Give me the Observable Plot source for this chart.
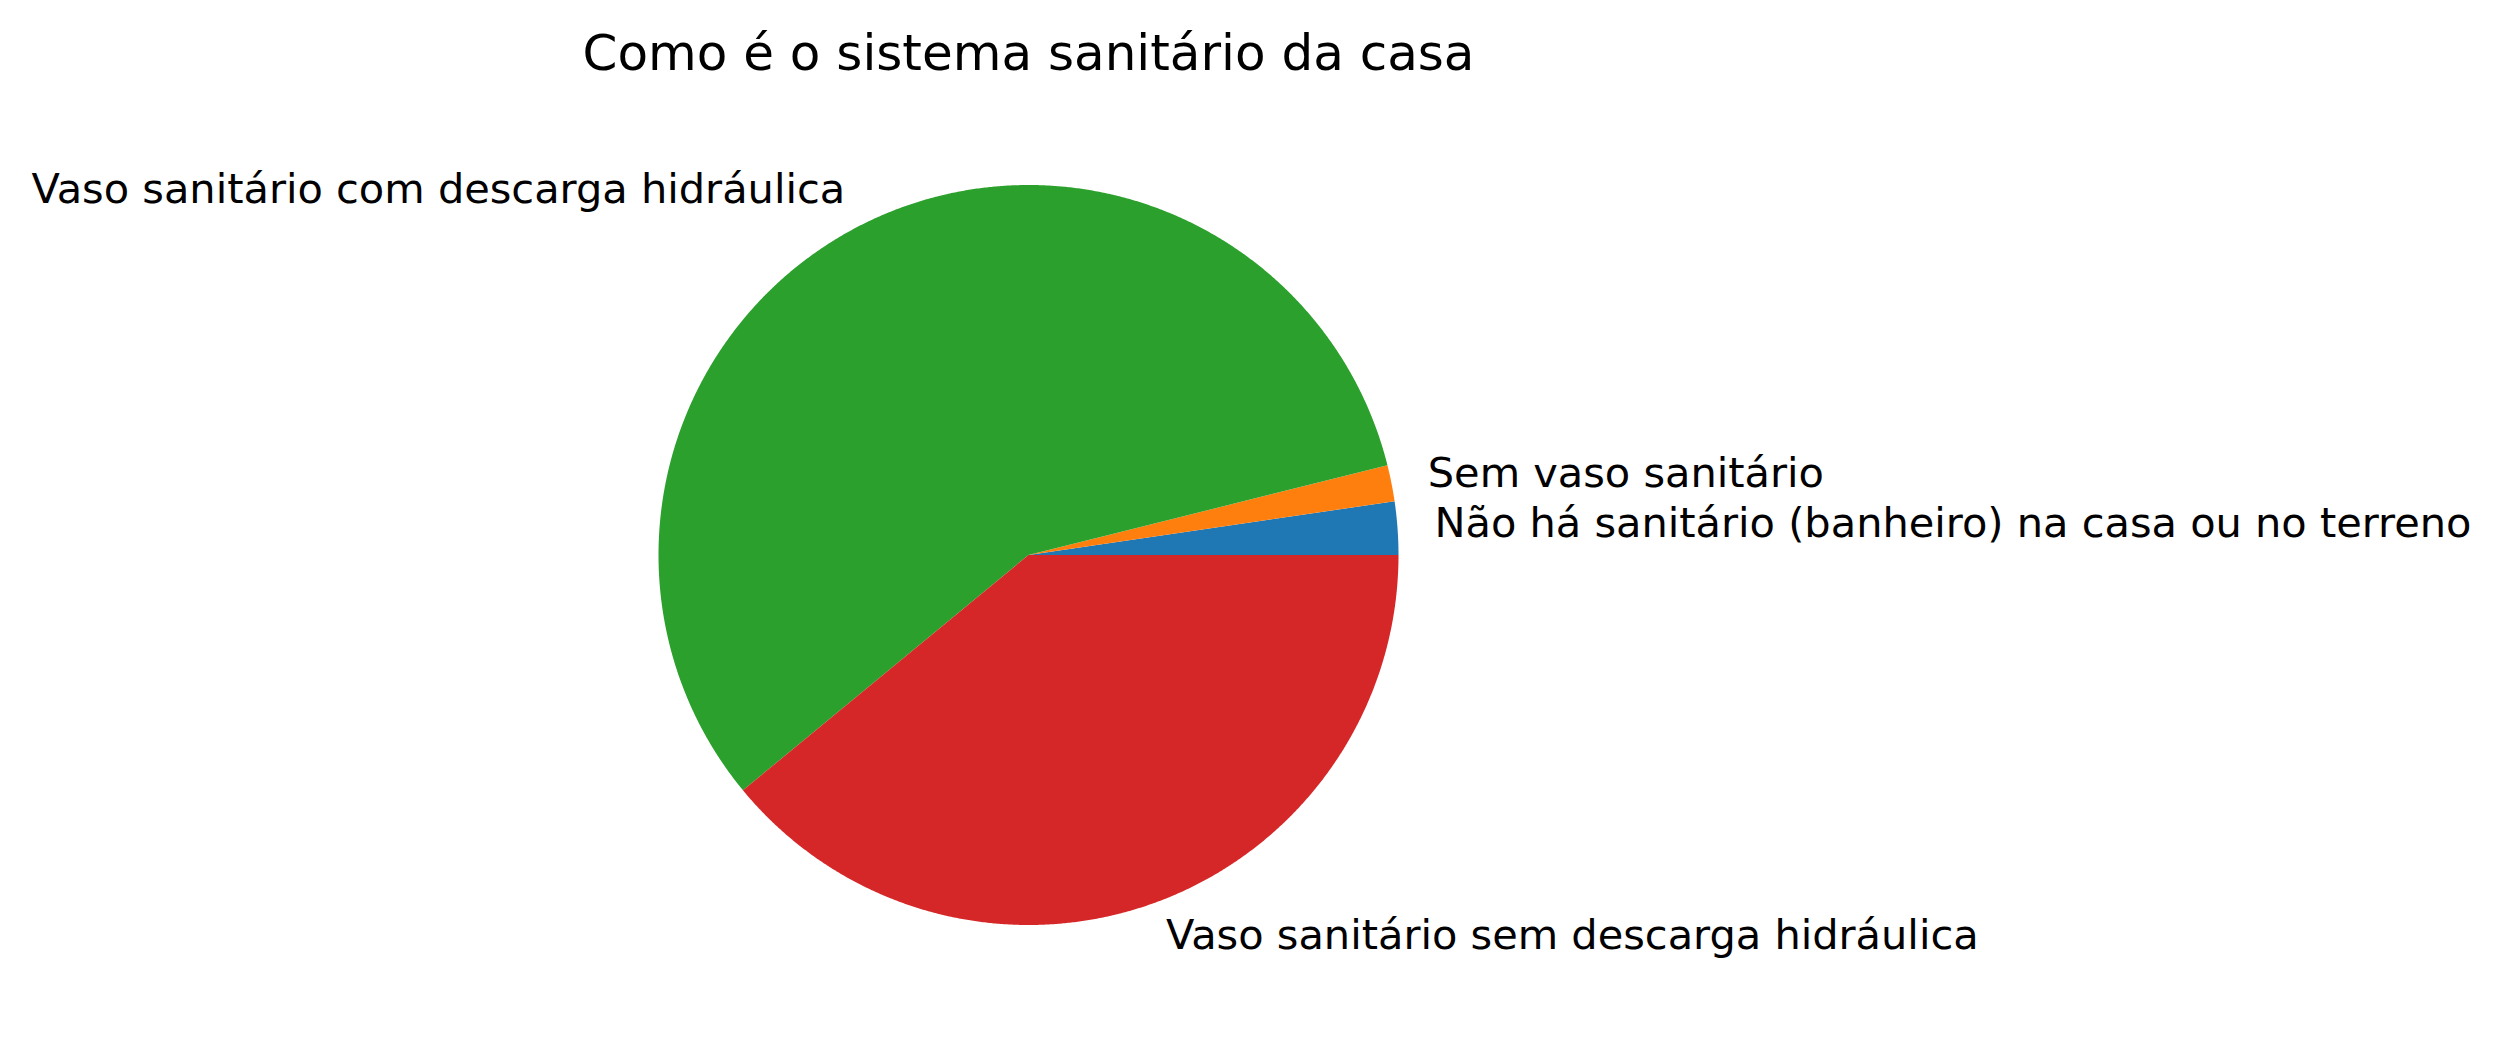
<!DOCTYPE html>
<html><head><meta charset="utf-8">
<script src="https://cdn.jsdelivr.net/npm/d3@7"></script>
<script src="https://cdn.jsdelivr.net/npm/@observablehq/plot@0.6"></script>
<style>html,body{margin:0;padding:0;background:#fff;} svg{display:block}</style>
</head><body><div id="chart"></div>
<script>
const title = "Como é o sistema sanitário da casa";
const categories = [
  "Não há sanitário (banheiro) na casa ou no terreno",
  "Sem vaso sanitário",
  "Vaso sanitário com descarga hidráulica",
  "Vaso sanitário sem descarga hidráulica"
];
const values = [2.32, 1.58, 57.07, 39.03];
const colors = ["#1f77b4", "#ff7f0e", "#2ca02c", "#d62728"];

// slice geometry derived from the values (counter-clockwise from 0°)
const total = d3.sum(values);
let acc = 0;
const slices = values.map((v, i) => {
  const a0 = acc / total * 2 * Math.PI; acc += v;
  const a1 = acc / total * 2 * Math.PI;
  return {label: categories[i], a0, a1, mid: (a0 + a1) / 2};
});
const outline = [];
slices.forEach(s => {
  outline.push({label: s.label, x: 0, y: 0});
  const n = Math.max(2, Math.ceil((s.a1 - s.a0) / (Math.PI / 720)));
  for (let k = 0; k <= n; k++) {
    const a = s.a0 + (s.a1 - s.a0) * k / n;
    outline.push({label: s.label, x: Math.cos(a), y: Math.sin(a)});
  }
  outline.push({label: s.label, x: 0, y: 0});
});
const labelR = 1.1;
const labels = slices.map(s => ({label: s.label, x: labelR * Math.cos(s.mid), y: labelR * Math.sin(s.mid)}));

const W = 2503, H = 1047, R = 370, CX = 1028, CY = 554.5;
const font = "DejaVu Sans";

const chart = Plot.plot({
  width: W, height: H,
  margin: 0,
  style: {fontFamily: font, background: "#fff"},
  x: {domain: [-CX / R, (W - CX) / R], range: [0, W], axis: null},
  y: {domain: [-(H - CY) / R, CY / R], range: [H, 0], axis: null},
  color: {domain: categories, range: colors},
  marks: [
    Plot.line(outline, {x: "x", y: "y", z: "label", fill: "label", stroke: "none", curve: "linear"}),
    Plot.text(labels.filter(d => d.x >= 0), {x: "x", y: "y", text: "label", textAnchor: "start", lineAnchor: "middle", dy: -2, fontSize: 41.5, fill: "black", fontFamily: font}),
    Plot.text(labels.filter(d => d.x < 0), {x: "x", y: "y", text: "label", textAnchor: "end", lineAnchor: "middle", dy: -2, fontSize: 41.5, fill: "black", fontFamily: font}),
    Plot.text([title], {x: () => 0, frameAnchor: "top", lineAnchor: "middle", dy: 53, text: d => d, fontSize: 50, fill: "black", fontFamily: font})
  ]
});
document.getElementById("chart").appendChild(chart);
</script>
</body></html>
